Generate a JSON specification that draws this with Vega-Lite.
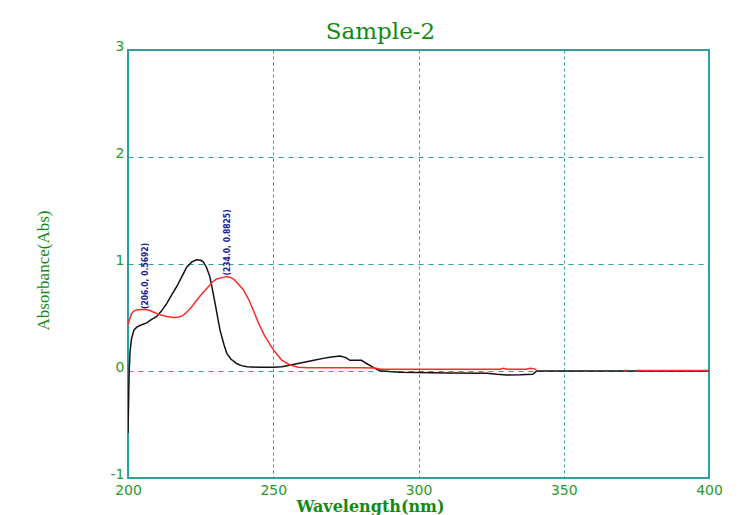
{
  "$schema": "https://vega.github.io/schema/vega-lite/v6.json",
  "autosize": "none",
  "width": 581,
  "height": 428,
  "padding": {"left": 128, "top": 50, "right": 42, "bottom": 37},
  "background": "white",
  "title": {
    "text": "Sample-2",
    "font": "DejaVu Serif",
    "fontSize": 23,
    "fontWeight": "normal",
    "color": "#128a12",
    "anchor": "middle",
    "frame": "group",
    "dx": -38,
    "dy": 11,
    "offset": 6
  },
  "config": {
    "view": {"stroke": "#2f9f9f", "strokeWidth": 2},
    "axis": {
      "domain": false,
      "ticks": false,
      "grid": true,
      "gridColor": "#2f9f9f",
      "gridOpacity": 1,
      "gridWidth": 1,
      "labelFont": "DejaVu Sans",
      "labelFontSize": 14,
      "labelColor": "#2a9a2a",
      "labelFlush": false,
      "labelOverlap": false,
      "titleColor": "#128a12"
    }
  },
  "datasets": {
    "spectra": [
      {"series": "black", "seg": "b1", "wl": 200.0, "abs": -0.58},
      {"series": "black", "seg": "b1", "wl": 200.2, "abs": -0.3},
      {"series": "black", "seg": "b1", "wl": 200.4, "abs": 0.0},
      {"series": "black", "seg": "b1", "wl": 200.7, "abs": 0.18},
      {"series": "black", "seg": "b1", "wl": 201.2, "abs": 0.3},
      {"series": "black", "seg": "b1", "wl": 202.0, "abs": 0.38},
      {"series": "black", "seg": "b1", "wl": 203.0, "abs": 0.41},
      {"series": "black", "seg": "b1", "wl": 204.5, "abs": 0.43},
      {"series": "black", "seg": "b1", "wl": 206.4, "abs": 0.45},
      {"series": "black", "seg": "b1", "wl": 208.0, "abs": 0.48},
      {"series": "black", "seg": "b1", "wl": 209.9, "abs": 0.51},
      {"series": "black", "seg": "b1", "wl": 211.5, "abs": 0.56},
      {"series": "black", "seg": "b1", "wl": 213.3, "abs": 0.63},
      {"series": "black", "seg": "b1", "wl": 215.0, "abs": 0.71},
      {"series": "black", "seg": "b1", "wl": 216.8, "abs": 0.79},
      {"series": "black", "seg": "b1", "wl": 218.5, "abs": 0.88},
      {"series": "black", "seg": "b1", "wl": 220.2, "abs": 0.97},
      {"series": "black", "seg": "b1", "wl": 222.0, "abs": 1.02},
      {"series": "black", "seg": "b1", "wl": 223.6, "abs": 1.04},
      {"series": "black", "seg": "b1", "wl": 225.0, "abs": 1.035},
      {"series": "black", "seg": "b1", "wl": 225.9, "abs": 1.02},
      {"series": "black", "seg": "b1", "wl": 227.0, "abs": 0.97},
      {"series": "black", "seg": "b1", "wl": 228.2, "abs": 0.88},
      {"series": "black", "seg": "b1", "wl": 229.0, "abs": 0.77},
      {"series": "black", "seg": "b1", "wl": 230.0, "abs": 0.63},
      {"series": "black", "seg": "b1", "wl": 231.0, "abs": 0.48},
      {"series": "black", "seg": "b1", "wl": 231.7, "abs": 0.38},
      {"series": "black", "seg": "b1", "wl": 233.0, "abs": 0.25},
      {"series": "black", "seg": "b1", "wl": 234.0, "abs": 0.165},
      {"series": "black", "seg": "b1", "wl": 235.5, "abs": 0.11},
      {"series": "black", "seg": "b1", "wl": 237.4, "abs": 0.07},
      {"series": "black", "seg": "b1", "wl": 239.0, "abs": 0.05},
      {"series": "black", "seg": "b1", "wl": 241.0, "abs": 0.04},
      {"series": "black", "seg": "b1", "wl": 245.0, "abs": 0.035},
      {"series": "black", "seg": "b1", "wl": 250.0, "abs": 0.035},
      {"series": "black", "seg": "b1", "wl": 253.0, "abs": 0.04},
      {"series": "black", "seg": "b1", "wl": 256.0, "abs": 0.056},
      {"series": "black", "seg": "b1", "wl": 258.5, "abs": 0.07},
      {"series": "black", "seg": "b1", "wl": 261.5, "abs": 0.087},
      {"series": "black", "seg": "b1", "wl": 264.0, "abs": 0.1},
      {"series": "black", "seg": "b1", "wl": 267.2, "abs": 0.118},
      {"series": "black", "seg": "b1", "wl": 270.0, "abs": 0.13},
      {"series": "black", "seg": "b1", "wl": 273.0, "abs": 0.14},
      {"series": "black", "seg": "b1", "wl": 275.0, "abs": 0.125},
      {"series": "black", "seg": "b1", "wl": 276.4, "abs": 0.1},
      {"series": "black", "seg": "b1", "wl": 280.4, "abs": 0.1},
      {"series": "black", "seg": "b1", "wl": 282.1, "abs": 0.07},
      {"series": "black", "seg": "b1", "wl": 284.0, "abs": 0.04},
      {"series": "black", "seg": "b1", "wl": 285.6, "abs": 0.015},
      {"series": "black", "seg": "b1", "wl": 287.0, "abs": 0.003},
      {"series": "black", "seg": "b1", "wl": 290.0, "abs": -0.005},
      {"series": "black", "seg": "b1", "wl": 293.6, "abs": -0.012},
      {"series": "black", "seg": "b1", "wl": 300.0, "abs": -0.015},
      {"series": "black", "seg": "b1", "wl": 310.0, "abs": -0.018},
      {"series": "black", "seg": "b1", "wl": 323.5, "abs": -0.02},
      {"series": "black", "seg": "b1", "wl": 327.0, "abs": -0.03},
      {"series": "black", "seg": "b1", "wl": 330.4, "abs": -0.037},
      {"series": "black", "seg": "b1", "wl": 335.0, "abs": -0.035},
      {"series": "black", "seg": "b1", "wl": 339.4, "abs": -0.03},
      {"series": "black", "seg": "b1", "wl": 340.7, "abs": 0.0},
      {"series": "black", "seg": "b1", "wl": 350.0, "abs": 0.0},
      {"series": "black", "seg": "b1", "wl": 360.0, "abs": 0.0},
      {"series": "black", "seg": "b1", "wl": 370.0, "abs": 0.0},
      {"series": "black", "seg": "b1", "wl": 380.0, "abs": 0.0},
      {"series": "black", "seg": "b1", "wl": 390.0, "abs": 0.0},
      {"series": "black", "seg": "b1", "wl": 400.0, "abs": 0.0},
      {"series": "red", "seg": "r1", "wl": 200.0, "abs": 0.43},
      {"series": "red", "seg": "r1", "wl": 200.5, "abs": 0.48},
      {"series": "red", "seg": "r1", "wl": 201.3, "abs": 0.54},
      {"series": "red", "seg": "r1", "wl": 202.0, "abs": 0.56},
      {"series": "red", "seg": "r1", "wl": 203.0, "abs": 0.57},
      {"series": "red", "seg": "r1", "wl": 204.5, "abs": 0.575},
      {"series": "red", "seg": "r1", "wl": 206.0, "abs": 0.577},
      {"series": "red", "seg": "r1", "wl": 207.5, "abs": 0.565},
      {"series": "red", "seg": "r1", "wl": 209.3, "abs": 0.545},
      {"series": "red", "seg": "r1", "wl": 211.0, "abs": 0.525},
      {"series": "red", "seg": "r1", "wl": 213.3, "abs": 0.51},
      {"series": "red", "seg": "r1", "wl": 215.6, "abs": 0.5},
      {"series": "red", "seg": "r1", "wl": 217.5, "abs": 0.505},
      {"series": "red", "seg": "r1", "wl": 219.0, "abs": 0.52},
      {"series": "red", "seg": "r1", "wl": 221.0, "abs": 0.57},
      {"series": "red", "seg": "r1", "wl": 222.5, "abs": 0.62},
      {"series": "red", "seg": "r1", "wl": 224.8, "abs": 0.7},
      {"series": "red", "seg": "r1", "wl": 227.1, "abs": 0.77},
      {"series": "red", "seg": "r1", "wl": 229.0, "abs": 0.83},
      {"series": "red", "seg": "r1", "wl": 230.5, "abs": 0.86},
      {"series": "red", "seg": "r1", "wl": 232.8, "abs": 0.875},
      {"series": "red", "seg": "r1", "wl": 234.0, "abs": 0.8825},
      {"series": "red", "seg": "r1", "wl": 235.1, "abs": 0.875},
      {"series": "red", "seg": "r1", "wl": 236.3, "abs": 0.86},
      {"series": "red", "seg": "r1", "wl": 237.4, "abs": 0.83},
      {"series": "red", "seg": "r1", "wl": 239.7, "abs": 0.76},
      {"series": "red", "seg": "r1", "wl": 241.5, "abs": 0.67},
      {"series": "red", "seg": "r1", "wl": 243.1, "abs": 0.57},
      {"series": "red", "seg": "r1", "wl": 244.9, "abs": 0.45},
      {"series": "red", "seg": "r1", "wl": 247.0, "abs": 0.33},
      {"series": "red", "seg": "r1", "wl": 250.0, "abs": 0.2},
      {"series": "red", "seg": "r1", "wl": 253.0, "abs": 0.1},
      {"series": "red", "seg": "r1", "wl": 255.8, "abs": 0.056},
      {"series": "red", "seg": "r1", "wl": 258.5, "abs": 0.035},
      {"series": "red", "seg": "r1", "wl": 262.0, "abs": 0.03},
      {"series": "red", "seg": "r1", "wl": 270.0, "abs": 0.03},
      {"series": "red", "seg": "r1", "wl": 280.0, "abs": 0.03},
      {"series": "red", "seg": "r1", "wl": 285.0, "abs": 0.028},
      {"series": "red", "seg": "r1", "wl": 287.0, "abs": 0.017},
      {"series": "red", "seg": "r1", "wl": 295.0, "abs": 0.016},
      {"series": "red", "seg": "r1", "wl": 310.0, "abs": 0.016},
      {"series": "red", "seg": "r1", "wl": 320.0, "abs": 0.016},
      {"series": "red", "seg": "r1", "wl": 328.0, "abs": 0.017},
      {"series": "red", "seg": "r1", "wl": 329.2, "abs": 0.025},
      {"series": "red", "seg": "r1", "wl": 330.5, "abs": 0.017},
      {"series": "red", "seg": "r1", "wl": 337.0, "abs": 0.017},
      {"series": "red", "seg": "r1", "wl": 338.4, "abs": 0.025},
      {"series": "red", "seg": "r1", "wl": 340.0, "abs": 0.02},
      {"series": "red", "seg": "r1", "wl": 340.7, "abs": 0.005},
      {"series": "red", "seg": "r2", "wl": 370.5, "abs": 0.005},
      {"series": "red", "seg": "r2", "wl": 371.5, "abs": 0.005},
      {"series": "red", "seg": "r3", "wl": 375.0, "abs": 0.005},
      {"series": "red", "seg": "r3", "wl": 385.0, "abs": 0.005},
      {"series": "red", "seg": "r3", "wl": 395.0, "abs": 0.005},
      {"series": "red", "seg": "r3", "wl": 400.0, "abs": 0.005}
    ],
    "peaks": [
      {"wl": 206.0, "abs": 0.5692, "label": "(206.0, 0.5692)"},
      {"wl": 234.0, "abs": 0.8825, "label": "(234.0, 0.8825)"}
    ]
  },
  "layer": [
    {
      "data": {"name": "spectra"},
      "mark": {"type": "line", "strokeWidth": 1.5, "clip": true},
      "encoding": {
        "x": {
          "field": "wl",
          "type": "quantitative",
          "scale": {"domain": [200, 400], "nice": false, "zero": false},
          "axis": {
            "values": [200, 250, 300, 350, 400],
            "gridDash": [3, 3],
            "labelPadding": 5,
            "title": "Wavelength(nm)",
            "titleFont": "DejaVu Serif",
            "titleFontSize": 16,
            "titleFontWeight": "bold",
            "titleX": 242,
            "titleY": 28,
            "titleBaseline": "middle",
            "titleAlign": "center"
          }
        },
        "y": {
          "field": "abs",
          "type": "quantitative",
          "scale": {"domain": [-1, 3], "nice": false, "zero": false},
          "axis": {
            "values": [-1, 0, 1, 2, 3],
            "labelExpr": "datum.value + ''",
            "gridDash": [5, 5],
            "labelPadding": 4,
            "labelBaseline": "alphabetic",
            "title": "Absorbance(Abs)",
            "titleFont": "Liberation Serif",
            "titleFontSize": 17,
            "titleFontWeight": "normal",
            "titleX": -85,
            "titleY": 220,
            "titleAngle": 270,
            "titleBaseline": "middle",
            "titleAlign": "center"
          }
        },
        "color": {
          "field": "series",
          "type": "nominal",
          "scale": {"domain": ["black", "red"], "range": ["#111111", "#ff2a2a"]},
          "legend": null
        },
        "detail": {"field": "seg", "type": "nominal"},
        "order": {"field": "wl", "type": "quantitative"}
      }
    },
    {
      "data": {"name": "peaks"},
      "mark": {
        "type": "text",
        "angle": 270,
        "align": "left",
        "baseline": "middle",
        "font": "Liberation Sans Narrow, DejaVu Sans Condensed, sans-serif",
        "fontSize": 8.5,
        "fontWeight": "bold",
        "color": "#1a1a99",
        "dx": 1
      },
      "encoding": {
        "x": {"field": "wl", "type": "quantitative"},
        "y": {"field": "abs", "type": "quantitative"},
        "text": {"field": "label", "type": "nominal"}
      }
    }
  ]
}
